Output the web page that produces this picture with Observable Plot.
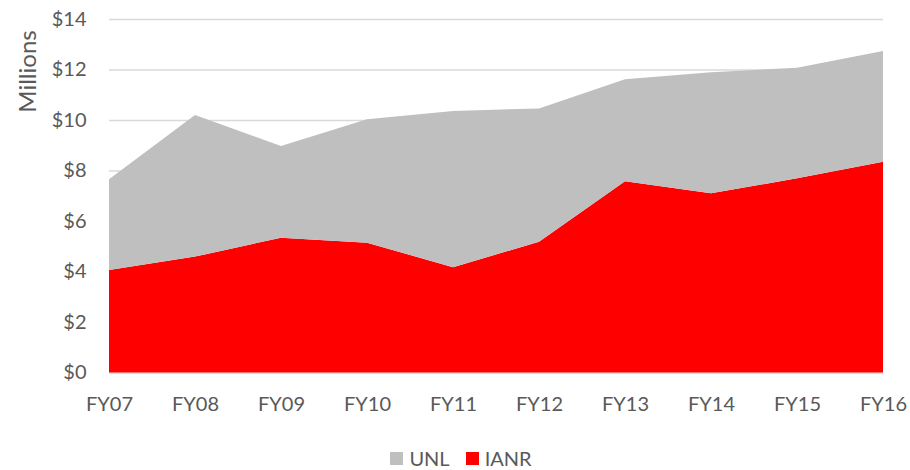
<!DOCTYPE html>
<html>
<head>
<meta charset="utf-8">
<script src="https://cdn.jsdelivr.net/npm/d3@7"></script>
<script src="https://cdn.jsdelivr.net/npm/@observablehq/plot@0.6"></script>
<style>
  body { margin: 0; background: #fff; font-family: Lato, "Open Sans", sans-serif; }
  #wrap { position: relative; width: 910px; height: 470px; }
  #legend { position: absolute; left: 0; top: 448px; width: 910px; height: 21px;
            display: flex; justify-content: center; align-items: center; gap: 16px;
            padding-left: 12px; box-sizing: border-box;
            font-size: 20px; color: #595959; line-height: 21px; }
  .item { display: flex; align-items: center; gap: 6px; }
  .sw { width: 13px; height: 13px; display: inline-block; }
</style>
</head>
<body>
<div id="wrap">
  <div id="chart"></div>
  <div id="legend"></div>
</div>
<script>
const years = ["FY07","FY08","FY09","FY10","FY11","FY12","FY13","FY14","FY15","FY16"];
const ianr  = [4.06, 4.59, 5.34, 5.14, 4.17, 5.18, 7.57, 7.10, 7.69, 8.35];
const unl   = [3.59, 5.61, 3.63, 4.89, 6.19, 5.28, 4.04, 4.79, 4.38, 4.38];
const yTicks = [0, 2, 4, 6, 8, 10, 12, 14];
const seriesNames = ["UNL", "IANR"];
const seriesColors = ["#bfbfbf", "#ff0000"];
const yTitle = "Millions";

const rows = [
  ...years.map((fy, i) => ({fy, series: "IANR", value: ianr[i]})),
  ...years.map((fy, i) => ({fy, series: "UNL", value: unl[i]}))
];

const H = 432;
const plot = Plot.plot({
  width: 910,
  height: H,
  marginTop: 19,
  marginLeft: 109,
  marginRight: 27,
  marginBottom: H - 372.5,
  style: {fontFamily: "Lato, 'Open Sans', sans-serif", fontSize: "20px", color: "#595959", background: "#fff", overflow: "visible"},
  x: {type: "point", domain: years, padding: 0, label: null, tickSize: 0, tickPadding: 24},
  y: {domain: [0, 14], ticks: yTicks, tickFormat: d => "$" + d, label: null, tickSize: 0, tickPadding: 23},
  color: {domain: seriesNames, range: seriesColors},
  marks: [
    Plot.ruleY(yTicks, {stroke: "#d9d9d9", strokeWidth: 1.3}),
    Plot.areaY(rows, {x: "fy", y: "value", fill: "series", z: "series", order: ["IANR", "UNL"]}),
    Plot.text([yTitle], {frameAnchor: "top-left", text: d => d, rotate: -90, dx: -81.5, dy: 52,
                         textAnchor: "middle", lineAnchor: "middle", fontSize: 24, fill: "#595959"})
  ]
});
document.getElementById("chart").appendChild(plot);

const legend = document.getElementById("legend");
seriesNames.forEach((name, i) => {
  const item = document.createElement("span");
  item.className = "item";
  const sw = document.createElement("span");
  sw.className = "sw";
  sw.style.background = seriesColors[i];
  const t = document.createElement("span");
  t.textContent = name;
  item.appendChild(sw);
  item.appendChild(t);
  legend.appendChild(item);
});
</script>
</body>
</html>
